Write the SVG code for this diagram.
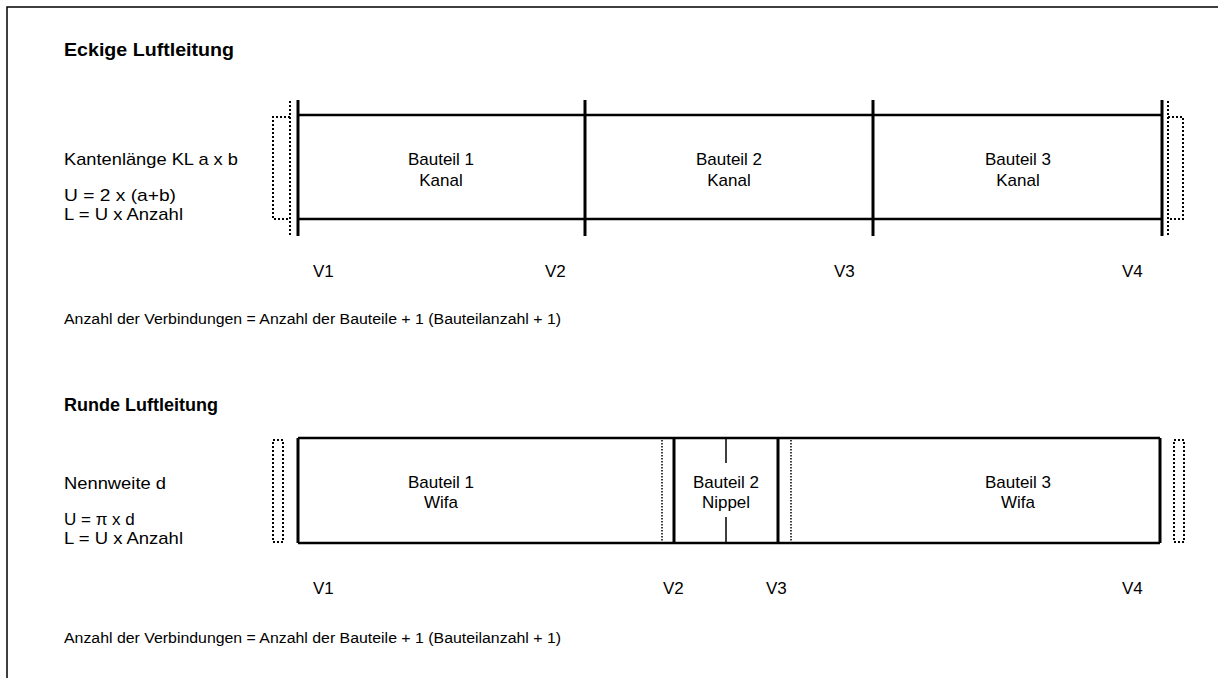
<svg xmlns="http://www.w3.org/2000/svg" width="1218" height="678" viewBox="0 0 1218 678">
<style>
  text { font-family: "Liberation Sans", Arial, sans-serif; font-size: 17px; fill: #000; }
  .b { font-weight: bold; font-size: 18px; }
  .s { font-size: 15.5px; }
  .m { text-anchor: middle; }
  .thick { stroke: #000; stroke-width: 3; fill: none; }
  .line { stroke: #000; stroke-width: 2.5; fill: none; }
  .thin { stroke: #000; stroke-width: 1.5; fill: none; }
  .dot { stroke: #000; stroke-width: 2; stroke-dasharray: 2 2; fill: none; }
  .dotf { stroke: #000; stroke-width: 1.5; stroke-dasharray: 1.5 1.5; fill: none; }
</style>
<rect width="1218" height="678" fill="#fff"/>
<g id="frame">
  <path class="thin" d="M7,678 V7 H1218" stroke-width="2"/>
</g>
<g id="labels">
  <text class="b" x="64" y="56" textLength="170" lengthAdjust="spacingAndGlyphs">Eckige Luftleitung</text>
  <text x="64" y="165" textLength="174" lengthAdjust="spacingAndGlyphs">Kantenlänge KL a x b</text>
  <text x="64" y="201" textLength="112" lengthAdjust="spacingAndGlyphs">U = 2 x (a+b)</text>
  <text x="64" y="220" textLength="119" lengthAdjust="spacingAndGlyphs">L = U x Anzahl</text>
  <text class="s" x="64" y="324" textLength="497" lengthAdjust="spacingAndGlyphs">Anzahl der Verbindungen = Anzahl der Bauteile + 1 (Bauteilanzahl + 1)</text>
  <text class="b" x="64" y="411" textLength="154" lengthAdjust="spacingAndGlyphs">Runde Luftleitung</text>
  <text x="64" y="489" textLength="102" lengthAdjust="spacingAndGlyphs">Nennweite d</text>
  <text x="64" y="525">U = π x d</text>
  <text x="64" y="544" textLength="119" lengthAdjust="spacingAndGlyphs">L = U x Anzahl</text>
  <text class="s" x="64" y="643" textLength="497" lengthAdjust="spacingAndGlyphs">Anzahl der Verbindungen = Anzahl der Bauteile + 1 (Bauteilanzahl + 1)</text>
</g>
<g id="eckig">
  <g id="eckig-rohr">
    <path class="line" d="M298,115 H1162 M298,219 H1162"/>
    <path class="thick" d="M298,100 V236 M585,100 V236 M873,100 V236 M1162,100 V236"/>
    <path class="dot" d="M290,101 V236 M290,117 H273 V219 H290"/>
    <path class="dot" d="M1168,101 V236 M1168,117 H1183 V219 H1168"/>
  </g>
  <g id="eckig-bauteil1"><text class="m" x="441" y="165">Bauteil 1</text><text class="m" x="441" y="186">Kanal</text></g>
  <g id="eckig-bauteil2"><text class="m" x="729" y="165">Bauteil 2</text><text class="m" x="729" y="186">Kanal</text></g>
  <g id="eckig-bauteil3"><text class="m" x="1018" y="165">Bauteil 3</text><text class="m" x="1018" y="186">Kanal</text></g>
  <g id="eckig-v">
    <text x="313" y="277">V1</text><text x="545" y="277">V2</text><text x="834" y="277">V3</text><text x="1122" y="277">V4</text>
  </g>
</g>
<g id="rund">
  <g id="rund-rohr">
    <path class="line" d="M298,438 H1160 M298,543 H1160"/>
    <path class="thick" d="M298,438 V543 M674,438 V543 M778,438 V543 M1160,438 V543"/>
    <path class="thin" d="M726,438 V463 M726,517 V543"/>
    <path class="dotf" d="M662,440 V542 M791,440 V542"/>
    <rect class="dot" x="273" y="440" width="10" height="102"/>
    <rect class="dot" x="1174" y="440" width="10" height="102"/>
  </g>
  <g id="rund-bauteil1"><text class="m" x="441" y="488">Bauteil 1</text><text class="m" x="441" y="508">Wifa</text></g>
  <g id="rund-bauteil2"><text class="m" x="726" y="488">Bauteil 2</text><text class="m" x="726" y="508">Nippel</text></g>
  <g id="rund-bauteil3"><text class="m" x="1018" y="488">Bauteil 3</text><text class="m" x="1018" y="508">Wifa</text></g>
  <g id="rund-v">
    <text x="313" y="594">V1</text><text x="663" y="594">V2</text><text x="766" y="594">V3</text><text x="1122" y="594">V4</text>
  </g>
</g>
</svg>
